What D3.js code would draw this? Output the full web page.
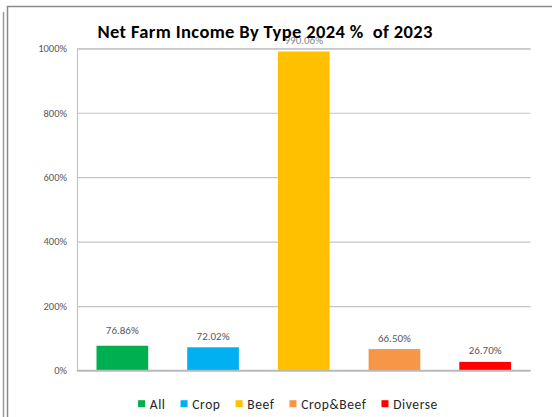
<!DOCTYPE html>
<html>
<head>
<meta charset="utf-8">
<script src="https://cdn.jsdelivr.net/npm/d3@7"></script>
<style>
  html, body { margin: 0; padding: 0; background: #fff; }
  svg { display: block; }
  text { font-family: Carlito, Calibri, Lato, "Open Sans", sans-serif; }
</style>
</head>
<body>
<svg id="chart" width="552" height="417"></svg>
<script>
// Net farm income by farm type, 2024 as a percentage of 2023
const categories = ["All", "Crop", "Beef", "Crop&Beef", "Diverse"];
const values = [76.86, 72.02, 990.06, 66.50, 26.70];
const colors = ["#00B050", "#00B0F0", "#FFC000", "#F79646", "#FF0000"];
const yTicks = [0, 200, 400, 600, 800, 1000];
const title = "Net Farm Income By Type 2024 %  of 2023";

const W = 552, H = 417;
const plot = { left: 77, right: 530.5, top: 48.3, bottom: 370.5 };

const svg = d3.select("#chart");

// stretch a text to a target width by spreading its letters
function fitWidth(sel, width) {
  const n = sel.text().length;
  const w = sel.node().getComputedTextLength();
  sel.style("letter-spacing", ((width - w) / Math.max(1, n - 1)) + "px");
}

// panel frame (a neighbouring edge plus the chart box outline)
svg.append("line").attr("x1", 3.5).attr("x2", 3.5).attr("y1", 12).attr("y2", H)
  .attr("stroke", "#9a9a9a").attr("stroke-width", 1.5);
svg.append("path")
  .attr("d", `M7.5,${H} V6.5 H${W}`)
  .attr("fill", "none").attr("stroke", "#8a8a8a").attr("stroke-width", 1.5);

const x = d3.scaleBand()
  .domain(categories)
  .range([plot.left, plot.right])
  .paddingInner(0.43)
  .paddingOuter(0.215);

const y = d3.scaleLinear()
  .domain([0, 1000])
  .range([plot.bottom, plot.top]);

// horizontal gridlines and tick labels
const yAxis = d3.axisLeft(y)
  .tickValues(yTicks)
  .tickSize(-(plot.right - plot.left))
  .tickPadding(10)
  .tickFormat(d => d + "%");

const gy = svg.append("g")
  .attr("transform", `translate(${plot.left},0)`)
  .call(yAxis);
gy.select(".domain").attr("stroke", "#c4c4c4").attr("stroke-width", 1.2);
gy.selectAll(".tick line").attr("stroke", "#c4c4c4").attr("stroke-width", 1.2);
gy.selectAll(".tick text")
  .attr("fill", "#595959")
  .style("font-size", "10.5px")
  .style("font-family", "Carlito, Calibri, Lato, sans-serif");

// bars
svg.append("g").selectAll("rect")
  .data(categories)
  .join("rect")
  .attr("x", d => x(d))
  .attr("width", x.bandwidth())
  .attr("y", (d, i) => y(values[i]))
  .attr("height", (d, i) => y(0) - y(values[i]))
  .attr("fill", (d, i) => colors[i]);

// baseline drawn over the bars
svg.append("line")
  .attr("x1", plot.left).attr("x2", plot.right)
  .attr("y1", y(0)).attr("y2", y(0))
  .attr("stroke", "#b8b8b8").attr("stroke-width", 1.5);

// value labels above each bar
const labelLift = d => d === "All" ? 12 : 7.5;
svg.append("g").selectAll("text")
  .data(categories)
  .join("text")
  .attr("x", d => x(d) + x.bandwidth() / 2)
  .attr("y", (d, i) => y(values[i]) - labelLift(d))
  .attr("text-anchor", "middle")
  .attr("fill", (d) => d === "Beef" ? "#8a8a8a" : "#595959")
  .style("font-size", "11px")
  .text((d, i) => values[i].toFixed(2) + "%");

// title, drawn last so it sits above the tallest bar's label
const titleText = svg.append("text")
  .attr("x", 97.5)
  .attr("y", 37.5)
  .attr("fill", "#000")
  .style("font-size", "18.5px")
  .style("font-weight", "bold")
  .style("white-space", "pre")
  .text(title);
fitWidth(titleText, 335);

// legend
const legend = svg.append("g");
const sq = 7, gapText = 4.7, gapItem = 15;
let cx = 0;
categories.forEach((c, i) => {
  const g = legend.append("g").attr("transform", `translate(${cx},0)`);
  g.append("rect").attr("x", 0).attr("y", -8.3).attr("width", sq).attr("height", sq)
    .attr("fill", colors[i]);
  const t = g.append("text").attr("x", sq + gapText).attr("y", 0)
    .attr("fill", "#262626")
    .style("font-size", "13.5px")
    .style("letter-spacing", "0.6px")
    .text(c);
  cx += sq + gapText + t.node().getComputedTextLength() + gapItem;
});
const legendWidth = cx - gapItem;
legend.attr("transform", `translate(${288 - legendWidth / 2},408.5)`);
</script>
</body>
</html>
